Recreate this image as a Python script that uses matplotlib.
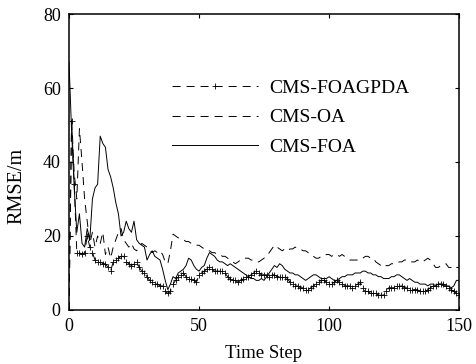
import numpy as np
import matplotlib
matplotlib.use("Agg")
import matplotlib.pyplot as plt

plt.rcParams['font.family'] = ['Liberation Serif', 'DejaVu Serif']
plt.rcParams['lines.scale_dashes'] = False

# RMSE per time step
foagpda = [0, 51, 34, 15.5, 15.5, 15, 15.5, 20, 17, 15.5,
           13.5, 13, 13, 12.5, 12.5, 11.5, 10.5, 13, 13.5, 14,
           14.5, 14.5, 13, 12.5, 12, 12.5, 13, 11.5, 10.5, 10,
           9, 8, 7.5, 7, 7, 6.5, 6.5, 5, 4.5, 5,
           7, 8, 9, 9.5, 10, 9, 8.5, 8.5, 8, 7.5,
           9.5, 10, 10.5, 11, 11.5, 11, 10.5, 10.5, 10.5, 10.5,
           10, 9, 8.5, 8, 8, 7.5, 8, 8.5, 9, 9,
           9.5, 10, 10.5, 10, 9.5, 9.5, 9.5, 9, 9.5, 9.5,
           9, 9, 9, 9, 8.5, 7.5, 7, 6.5, 6.5, 6,
           6, 5.5, 5.5, 6, 6.5, 7, 7.5, 8, 8, 7.5,
           7, 7, 7.5, 8, 7.5, 7, 6.5, 6.5, 6.5, 6,
           6.5, 7, 7.5, 6, 5, 5, 4.5, 4.5, 4.5, 4,
           4, 4, 5, 6, 6, 6, 6.5, 6.5, 6.5, 6,
           6, 5.5, 5.5, 5.5, 5.5, 5, 5, 5, 5.5, 6,
           6.5, 6.5, 7, 7, 7, 6.5, 6, 5.5, 5, 4.5,
           4]

oa = [0, 52, 37, 30, 49, 40, 30, 24, 18, 21,
      17, 20, 18, 21, 15, 17, 14, 17, 19, 21,
      22, 19, 18, 17, 18, 16.5, 16, 17, 18, 17.5,
      17, 16, 15.5, 16, 15.5, 16, 15, 13, 12.5, 16,
      20.5, 20, 19.5, 19.5, 19, 18.5, 18.5, 18, 18, 17.5,
      17.5, 17, 16.5, 16, 16, 15.5, 15.5, 15, 15, 14.5,
      14.5, 14, 13.5, 13, 12.5, 13, 13.5, 14, 14, 14,
      13.5, 13.5, 13, 13, 13.5, 14, 14.5, 15.5, 16.5, 17.5,
      17, 16.5, 16, 16.5, 16, 16.5, 16.5, 17, 16.5, 16.5,
      16, 16, 15.5, 15, 14.5, 14, 14, 14.5, 14.5, 15,
      15, 14.5, 15, 15, 14.5, 15, 14.5, 14, 13.5, 13.5,
      13.5, 13.5, 14, 14, 14.5, 14.5, 14, 14, 13, 12.5,
      12, 11.5, 12, 12, 12.5, 12.5, 12.5, 13, 13, 13.5,
      13.5, 13, 13, 13, 13.5, 13, 13, 13.5, 14, 13.5,
      12.5, 11.5, 11.5, 12, 12, 12.5, 11.5, 11.5, 11, 11.5,
      11.5]

foa = [67, 48, 33, 21, 26, 18, 17, 22, 19, 30,
       33, 34, 47, 45, 44, 38, 36, 33, 29, 26,
       20, 21, 24, 22, 21, 24, 19, 18, 17.5, 17,
       13.5, 15, 16, 14.5, 14, 13.5, 11, 8, 5.5, 7,
       9, 8.5, 10, 10.5, 11, 12, 14, 13.5, 12, 11,
       10.5, 11.5, 12, 14, 15.5, 15, 14.5, 13.5, 13, 13,
       12.5, 12, 12.5, 12, 11.5, 11, 10.5, 10, 9.5, 9,
       8.5, 8.5, 8, 8, 8.5, 8, 9, 10, 11, 12,
       11.5, 12.5, 12, 11, 10.5, 10, 10, 9.5, 9.5, 9,
       8.5, 8, 8.5, 9, 9.5, 9.5, 9, 8.5, 8.5, 8.5,
       9, 8.5, 8, 8, 8.5, 9, 9, 9.5, 9.5, 9.5,
       10, 10, 10, 10.5, 10.5, 10, 10, 9.5, 9.5, 9,
       9, 8.5, 8.5, 8.5, 9, 9, 9.5, 9.5, 9, 8.5,
       8, 8.5, 8, 7.5, 7.5, 7, 7, 7, 6.5, 7,
       7, 6.5, 7, 7, 6.5, 6.5, 6.5, 6, 6.5, 8,
       8]

t = np.arange(len(foa))

fig = plt.figure(figsize=(4.77, 3.64), dpi=100)
ax = fig.add_axes([0.1447, 0.1484, 0.8176, 0.8131])

dash = (0, (5.8, 4.3))
ax.plot(t, foagpda, color='k', lw=0.7, ls=dash, marker='+', ms=4, mew=0.6,
        label='CMS-FOAGPDA')
ax.plot(t, oa, color='k', lw=0.7, ls=dash, label='CMS-OA')
ax.plot(t, foa, color='k', lw=0.7, ls='-', label='CMS-FOA')

ax.set_xlim(0, 150)
ax.set_ylim(0, 80)
ax.set_xticks([0, 50, 100, 150])
ax.set_yticks([0, 20, 40, 60, 80])
ax.tick_params(direction='in', top=True, right=True, length=3, width=0.8,
               labelsize=13, pad=6)
for s in ax.spines.values():
    s.set_linewidth(1.1)

ax.set_xlabel('Time Step', fontsize=13.5, labelpad=7)
ax.set_ylabel('RMSE/m', fontsize=14.5)
ax.yaxis.set_label_coords(-0.108, 0.42)

ax.legend(loc='upper left', bbox_to_anchor=(0.22, 0.838), frameon=False,
          fontsize=14, handlelength=4.4, handletextpad=0.57, labelspacing=0.6,
          numpoints=1)

fig.savefig('out.png', dpi=100)
